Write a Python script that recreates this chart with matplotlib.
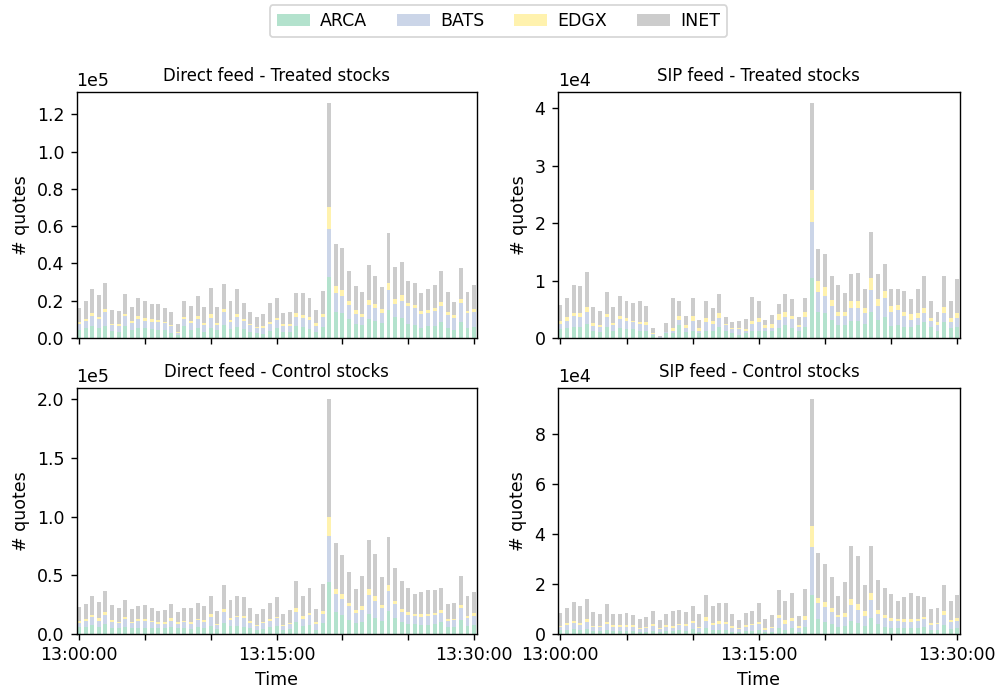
import matplotlib
matplotlib.use("Agg")
import matplotlib.pyplot as plt
import numpy as np

plt.rcParams['font.family'] = ['DejaVu Sans']
plt.rcParams['font.size'] = 10

exchanges = ["ARCA", "BATS", "EDGX", "INET"]
colors = ["#b3e2cd", "#cbd5e8", "#fff2ae", "#cccccc"]
tick_labels = ["13:00:00", "", "", "13:15:00", "", "", "13:30:00"]

# values in thousands of quotes, one per 30-second interval (61 bars)
dt_arca = [4.5,5.4,6.3,5.4,6.6,3.6,3.4,6.3,4.5,5.5,5.4,4.6,4.3,4.3,2.5,1.8,6.3,4.3,5.2,3.4,5.5,4.5,7.0,4.6,6.1,4.6,3.4,2.5,2.3,3.8,
           5.2,3.2,3.2,6.3,5.7,4.6,3.2,5.7,32.5,13.8,13.2,10.0,7.3,6.8,10.0,8.9,7.9,14.8,11.1,10.5,7.3,6.8,5.2,6.3,6.3,8.4,5.2,4.1,8.4,5.2,5.7]
dt_bats = [3.0,3.8,5.5,4.6,7.3,3.2,3.0,5.4,3.6,4.5,3.6,3.9,4.3,3.6,3.9,0.7,3.9,3.8,4.8,3.4,5.0,2.5,7.0,3.9,5.0,4.5,3.4,2.7,3.0,3.8,
           4.3,3.2,3.2,4.8,4.8,5.0,3.2,5.4,25.7,10.2,9.1,7.5,5.4,4.3,7.5,7.0,5.4,10.7,7.0,9.6,9.6,9.1,7.5,7.0,8.0,8.6,7.0,6.4,10.2,8.0,8.0]
dt_edgx = [1.1,1.1,1.4,1.1,1.4,0.7,1.1,1.3,1.1,1.6,1.6,1.6,1.1,0.7,0.5,0.5,1.1,1.1,1.6,1.1,2.3,1.1,1.4,1.1,1.6,1.1,0.5,0.5,1.1,1.1,
           1.1,1.1,1.1,2.1,2.1,1.4,1.4,1.6,11.8,3.8,3.2,2.1,2.1,1.6,2.7,2.1,2.1,3.8,2.7,2.7,2.1,1.6,1.6,1.6,1.6,2.1,1.6,1.6,2.1,1.1,1.6]
dt_inet = [7.3,9.5,12.9,11.8,14.1,7.3,6.8,10.5,7.3,9.6,9.1,7.9,8.4,7.3,6.8,4.3,8.4,7.9,10.7,8.6,13.8,8.4,13.4,10.0,13.4,8.4,6.4,5.4,6.3,10.0,
           10.7,5.7,6.3,10.7,11.8,10.2,7.0,12.3,55.8,22.5,22.5,16.1,12.9,11.8,18.8,15.5,11.8,26.8,17.2,17.7,11.8,11.8,9.6,11.3,12.3,16.6,10.7,7.0,16.6,10.2,12.9]

st_arca = [1.5,1.7,2.0,1.9,2.4,1.2,1.0,2.0,1.3,1.7,1.5,1.5,1.2,1.2,0.5,0.06,0.9,0.8,2.2,1.0,1.3,0.8,1.2,1.2,2.0,1.2,0.8,0.6,0.8,1.2,
           1.3,1.2,1.2,1.7,2.2,1.7,1.3,2.0,10.4,4.5,4.3,3.2,2.2,2.2,2.9,2.9,2.4,4.6,3.2,3.6,2.1,2.2,1.9,2.0,2.2,2.7,2.0,1.3,2.7,1.7,1.9]
st_bats = [1.0,1.2,1.9,1.7,2.1,0.9,1.0,1.7,1.0,1.6,1.4,1.2,1.2,1.0,0.2,0.06,0.1,0.5,0.9,0.7,1.6,0.5,1.6,1.2,1.4,1.0,0.7,0.9,0.5,1.2,
           1.4,0.5,0.5,1.4,1.4,1.6,0.7,1.6,9.7,3.5,3.0,2.4,1.7,1.6,2.4,2.3,1.9,3.7,2.3,3.3,2.5,2.6,1.9,1.2,1.2,1.6,1.0,0.9,1.7,1.0,1.6]
st_edgx = [0.4,0.7,0.5,0.7,0.9,0.5,0.3,0.5,0.3,0.5,0.5,0.3,0.3,0.5,0.2,0.06,0.06,0.5,0.7,0.5,1.0,0.5,0.7,0.5,0.9,0.3,0.3,0.2,0.3,0.5,
           0.7,0.5,0.7,1.0,0.9,0.5,0.3,1.0,5.7,1.9,1.6,1.0,0.7,0.7,1.2,1.2,1.0,2.1,1.2,1.2,0.9,0.9,0.7,0.9,0.9,1.0,0.5,0.5,1.0,0.7,0.9]
st_inet = [2.9,3.3,4.9,4.7,6.1,2.8,2.4,3.8,2.8,3.5,3.1,3.1,3.7,2.8,0.9,0.1,1.5,5.2,2.6,1.7,3.0,1.4,3.0,2.3,3.3,1.2,1.0,1.2,1.7,4.2,
           3.0,0.9,1.6,1.9,3.1,3.0,1.4,2.4,15.0,5.6,5.7,4.2,4.7,3.3,4.7,4.9,3.3,8.0,4.4,4.7,3.0,2.8,3.7,2.6,4.2,5.4,3.0,1.9,5.4,3.0,5.9]

dc_arca = [5.7,5.7,7.4,5.7,8.5,4.8,4.8,5.7,4.8,4.8,4.8,4.8,4.8,4.8,5.7,4.8,4.8,4.0,5.7,4.8,6.8,4.0,9.1,6.5,6.5,5.7,4.8,3.1,4.0,5.7,
           6.5,3.4,4.0,9.9,6.5,7.4,3.4,9.1,44.0,18.5,15.9,11.6,9.1,9.9,16.8,13.3,10.8,19.3,13.3,9.9,8.2,8.2,7.4,7.4,8.2,9.9,5.7,5.7,11.6,6.5,7.4]
dc_bats = [3.7,5.4,6.8,5.4,7.4,5.4,4.3,6.8,4.5,6.2,6.0,5.4,3.7,3.7,5.4,3.7,5.4,4.5,6.0,5.4,7.4,3.4,9.4,5.4,7.7,8.0,4.5,3.7,5.4,5.4,
           6.8,3.1,4.3,8.5,6.0,8.5,4.8,7.7,39.2,15.3,13.6,11.9,8.5,10.2,16.2,14.5,11.1,17.0,11.9,8.5,7.7,6.8,6.8,7.7,7.7,7.7,5.1,6.0,10.2,6.8,7.7]
dc_edgx = [1.7,1.7,1.7,2.6,2.6,1.7,1.1,1.7,0.9,1.4,1.7,0.9,1.7,1.7,2.6,1.7,0.9,1.7,0.9,1.7,2.8,1.1,2.6,1.7,0.9,1.7,1.7,0.9,0.9,1.7,
           1.1,0.9,0.9,3.4,2.6,1.7,1.7,2.6,16.2,4.3,4.3,2.6,2.6,3.4,5.1,4.3,2.6,5.1,2.6,2.6,2.6,1.7,2.6,1.7,1.7,2.6,1.7,0.9,2.6,1.7,2.6]
dc_inet = [11.6,12.5,16.2,13.3,17.9,12.5,11.6,14.5,10.8,11.1,11.9,10.8,9.1,9.9,11.6,8.2,10.8,11.6,13.6,11.6,15.1,10.8,20.4,15.1,17.0,15.9,10.8,9.1,10.8,13.3,
           16.8,9.4,11.1,23.0,17.0,21.3,11.1,23.0,100.5,39.2,33.2,26.4,17.9,25.6,41.7,35.8,23.9,40.9,28.1,23.9,20.4,17.0,18.7,20.4,19.6,18.7,12.8,13.6,24.7,17.0,17.9]

sc_arca = [1.7,1.7,2.1,1.7,2.1,1.3,1.3,1.7,1.3,1.3,1.3,1.3,0.9,0.9,1.3,0.9,1.3,1.3,1.7,1.3,2.1,0.9,2.5,1.7,1.7,1.7,0.9,0.9,1.3,1.3,
           1.5,0.7,0.7,2.3,1.5,2.3,0.7,2.7,15.5,5.9,4.7,3.9,2.7,3.1,5.1,4.3,3.1,6.3,3.9,2.7,2.3,2.3,2.3,2.3,2.3,2.7,1.5,1.5,3.5,1.9,2.3]
sc_bats = [1.2,2.0,2.4,2.0,2.8,1.6,1.6,2.4,1.6,1.6,1.6,1.6,1.2,1.6,2.0,1.2,1.6,1.2,2.0,2.0,2.4,1.6,2.8,2.0,2.4,2.4,1.6,1.2,1.6,2.4,
           2.4,0.8,1.6,4.0,2.4,2.8,1.6,2.8,19.3,6.4,6.0,4.8,4.0,3.6,6.4,5.2,4.0,7.2,4.0,3.6,2.8,2.8,2.4,2.4,2.8,3.2,2.0,2.4,4.0,2.8,2.8]
sc_edgx = [0.4,0.8,0.8,0.8,1.2,0.4,0.4,0.8,0.8,0.8,0.8,0.8,0.4,0.4,0.8,0.4,0.8,0.8,0.4,0.8,0.8,0.4,1.6,0.8,1.2,0.8,0.8,0.4,0.8,0.4,
           0.8,0.8,0.4,1.2,1.6,1.2,0.8,1.6,8.4,2.0,2.0,1.6,0.8,1.6,2.4,2.4,2.0,2.8,1.6,1.2,1.2,0.8,1.2,1.2,0.8,0.8,0.8,0.4,1.6,0.8,1.2]
sc_inet = [5.2,6.0,7.6,6.8,8.0,5.6,4.8,7.2,4.4,4.4,4.8,4.0,3.6,4.0,5.2,3.2,4.4,6.0,5.6,4.8,6.0,5.2,8.8,6.8,7.2,7.6,4.8,3.2,4.8,5.2,
           7.6,3.6,4.8,10.1,7.6,10.1,4.0,10.9,50.7,18.1,15.3,12.5,7.6,12.5,21.3,19.3,10.5,18.9,12.1,10.9,9.6,7.2,8.8,10.5,9.2,8.0,5.6,6.0,10.5,7.6,9.2]

panels = [
    ("Direct feed - Treated stocks", [dt_arca, dt_bats, dt_edgx, dt_inet]),
    ("SIP feed - Treated stocks", [st_arca, st_bats, st_edgx, st_inet]),
    ("Direct feed - Control stocks", [dc_arca, dc_bats, dc_edgx, dc_inet]),
    ("SIP feed - Control stocks", [sc_arca, sc_bats, sc_edgx, sc_inet]),
]

W, H = 997, 692
fig = plt.figure(figsize=(W / 125, H / 125), dpi=125)
boxes = [(76.5, 91.7, 476.7, 338.0), (557.7, 91.7, 960.0, 338.0),
         (76.5, 387.7, 476.7, 634.0), (557.7, 387.7, 960.0, 634.0)]

handles = []
for i, ((title, series), (x0, y0, x1, y1)) in enumerate(zip(panels, boxes)):
    ax = fig.add_axes([x0 / W, 1 - y1 / H, (x1 - x0) / W, (y1 - y0) / H])
    x = np.arange(len(series[0]))
    bottom = np.zeros(len(x))
    for name, vals, c in zip(exchanges, series, colors):
        v = np.array(vals) * 1000
        b = ax.bar(x, v, width=0.6, bottom=bottom, color=c, label=name)
        bottom += v
        if i == 0:
            handles.append(b)
    ax.set_xlim(-0.4, len(x) - 0.6)
    ax.set_ylim(0, bottom.max() * 1.05)
    ax.set_xticks(np.arange(0, len(x), 10))
    if i >= 2:
        ax.set_xticklabels(tick_labels)
        ax.set_xlabel("Time")
    else:
        ax.set_xticklabels([""] * len(tick_labels))
    ax.ticklabel_format(style='sci', axis='y', scilimits=(0, 0))
    ax.set_ylabel("# quotes")
    ax.set_title(title, fontsize=9.5)

fig.legend(handles, exchanges, loc="upper center", ncol=4,
           bbox_to_anchor=(0.5, 1.0), borderaxespad=0.3,
           handlelength=1.9, handletextpad=0.6, columnspacing=1.7)
fig.savefig("out.png", dpi=125)
